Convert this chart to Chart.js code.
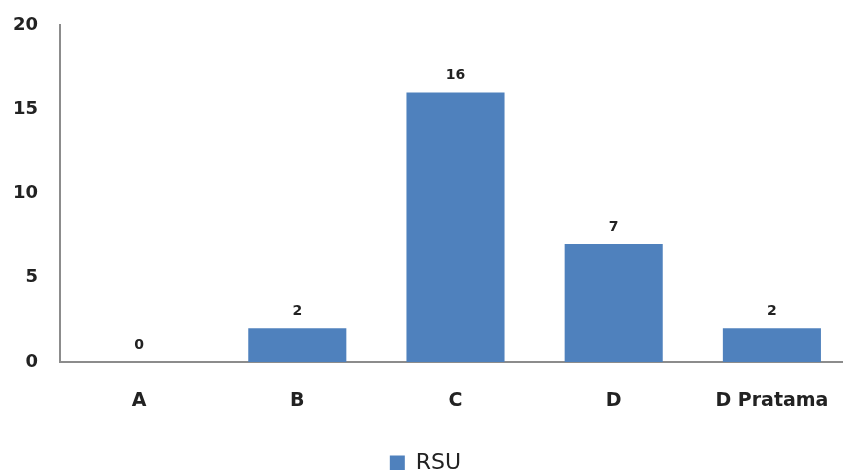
<!DOCTYPE html>
<html>
<head>
<meta charset="utf-8">
<script src="https://cdn.jsdelivr.net/npm/chart.js@4"></script>
<style>
  html, body { margin: 0; padding: 0; background: #fff; overflow: hidden; }
</style>
</head>
<body>
<canvas id="chart" width="851" height="470"></canvas>
<script>
// data
const categories = ['A', 'B', 'C', 'D', 'D Pratama'];
const rsuValues = [0, 2, 16, 7, 2];
const yTicks = [0, 5, 10, 15, 20];

// draw value above each bar
const barLabels = {
  id: 'barLabels',
  afterDatasetsDraw(chart) {
    const ctx = chart.ctx;
    const meta = chart.getDatasetMeta(0);
    ctx.save();
    ctx.font = 'bold 14px "DejaVu Sans"';
    ctx.fillStyle = '#222';
    ctx.textAlign = 'center';
    ctx.textBaseline = 'bottom';
    meta.data.forEach((bar, i) => {
      ctx.fillText(rsuValues[i], bar.x, bar.y - 10);
    });
    ctx.restore();
  }
};

new Chart(document.getElementById('chart'), {
  type: 'bar',
  data: {
    labels: categories,
    datasets: [{
      label: 'RSU',
      data: rsuValues,
      backgroundColor: '#4f81bd',
      categoryPercentage: 0.62,
      barPercentage: 1
    }]
  },
  options: {
    responsive: false,
    animation: false,
    layout: { padding: { top: 25, right: 0, left: 0, bottom: -14 } },
    plugins: {
      tooltip: { enabled: false },
      legend: {
        position: 'bottom',
        labels: {
          boxWidth: 15,
          boxHeight: 15,
          padding: 0,
          color: '#222',
          font: { family: 'DejaVu Sans', size: 22 }
        }
      }
    },
    scales: {
      x: {
        afterFit(scale) {
          scale.height = 90;
          scale.paddingLeft = 0;
          scale.paddingRight = 0;
        },
        grid: { display: false, drawTicks: false },
        border: { color: '#8c8c8c', width: 2 },
        ticks: {
          padding: 28,
          color: '#222',
          font: { family: 'DejaVu Sans', size: 19, weight: 'bold' }
        }
      },
      y: {
        min: 0,
        max: 20,
        afterBuildTicks(scale) {
          scale.ticks = yTicks.map(v => ({ value: v }));
        },
        afterFit(scale) {
          scale.width = 60;
          scale.paddingTop = 0;
          scale.paddingBottom = 0;
        },
        grid: { display: false, drawTicks: false },
        border: { color: '#8c8c8c', width: 2 },
        ticks: {
          padding: 22,
          color: '#222',
          font: { family: 'DejaVu Sans', size: 18, weight: 'bold' }
        }
      }
    }
  },
  plugins: [barLabels]
});
</script>
</body>
</html>
